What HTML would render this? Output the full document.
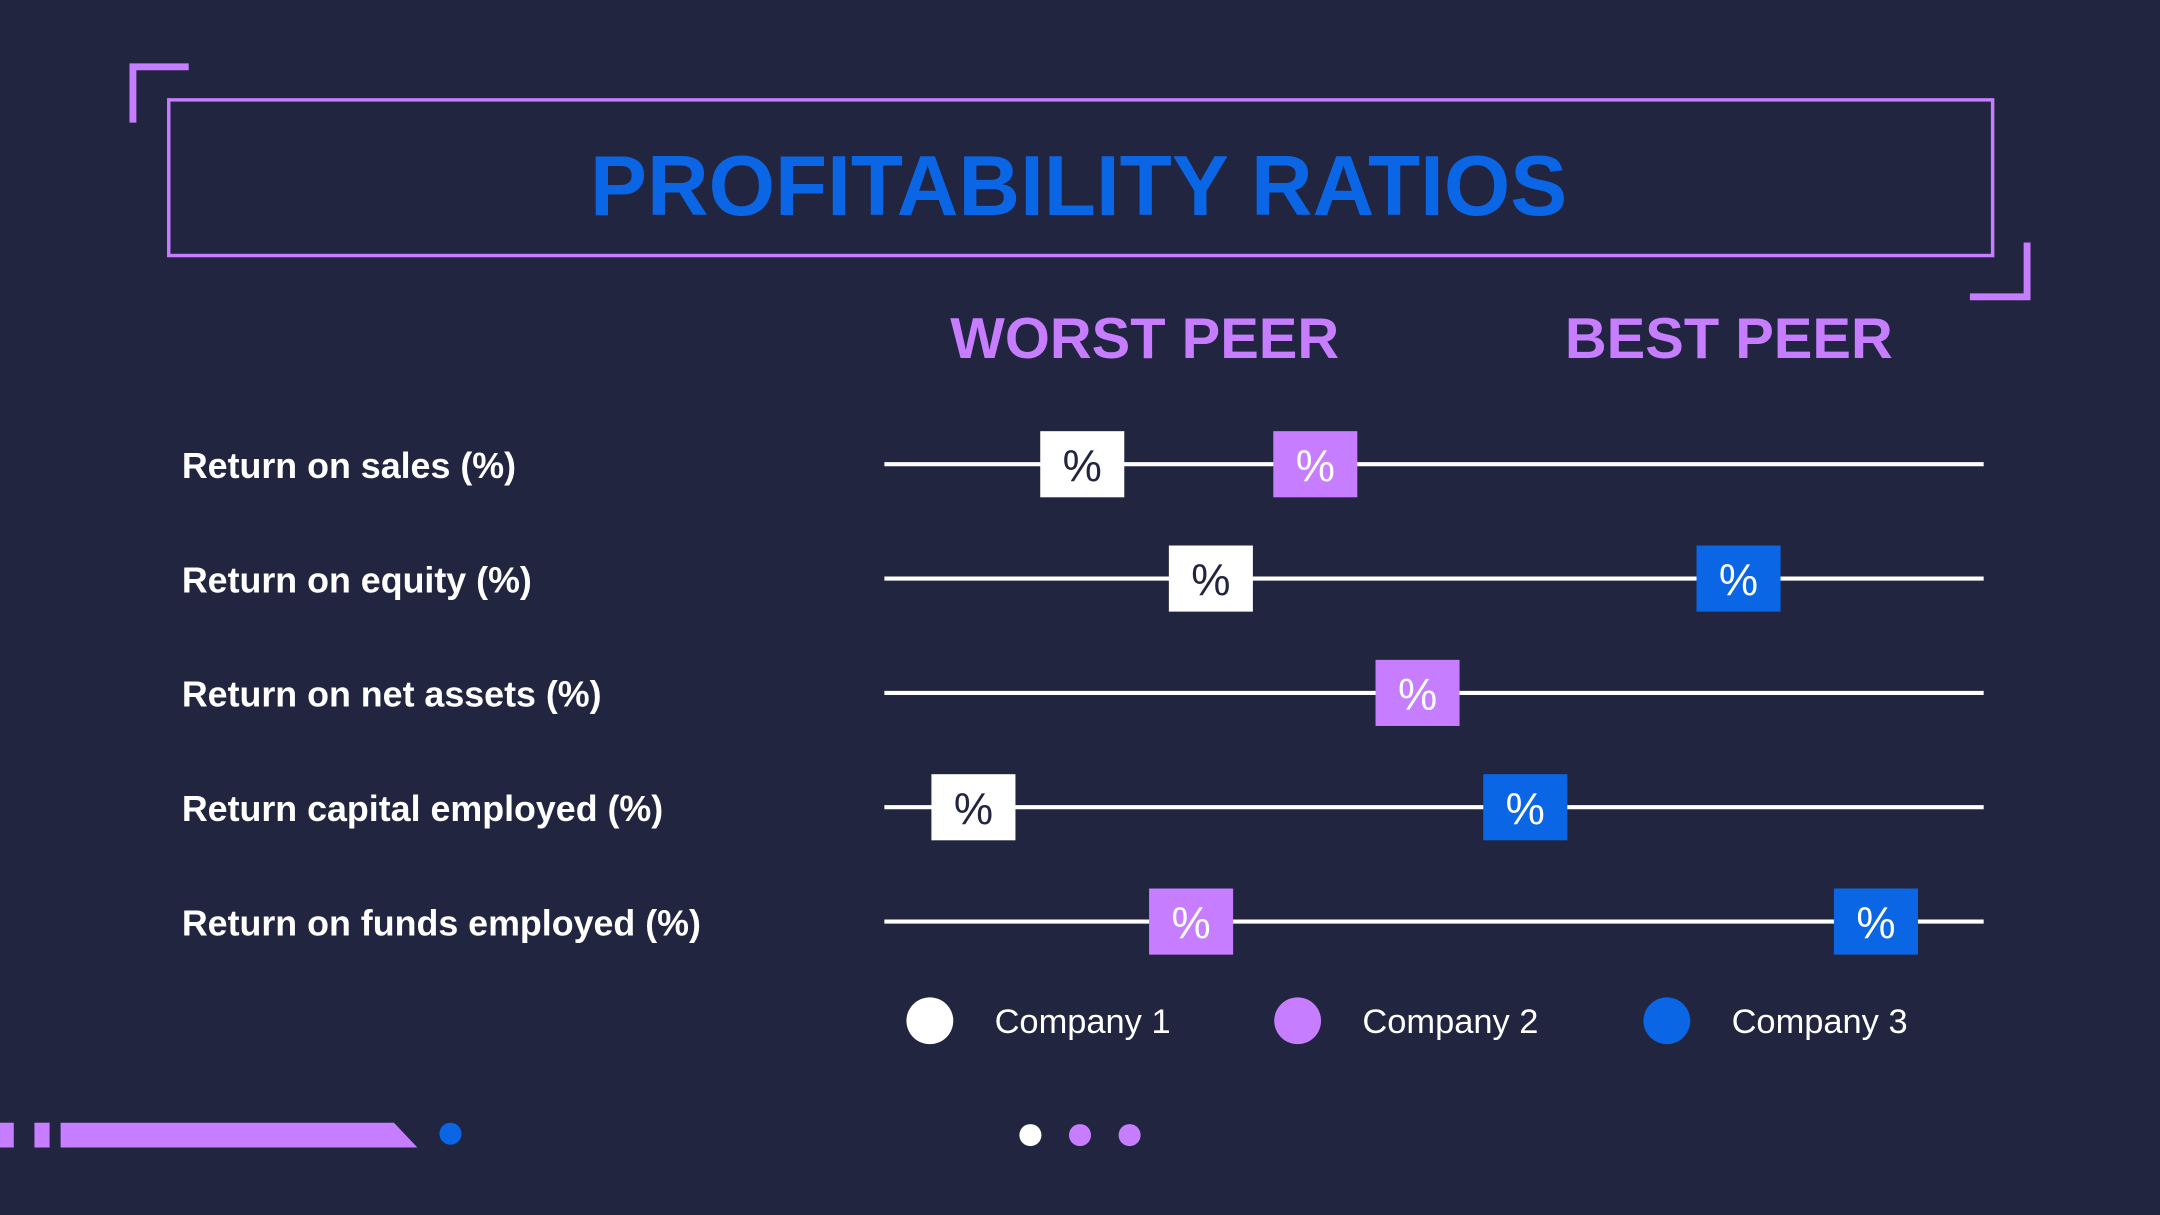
<!DOCTYPE html>
<html><head><meta charset="utf-8"><style>
html,body{margin:0;padding:0;background:#222540;}
svg{display:block;}
text{font-family:"Liberation Sans",Arial,sans-serif;}
</style></head><body>
<svg width="2160" height="1215" viewBox="0 0 1568 882">
<rect x="0" y="0" width="1568" height="882" fill="#222540"/>
<path d="M96.5 89 V48.5 H137" fill="none" stroke="#c77dff" stroke-width="5"/>
<path d="M1471.5 176 V215.5 H1430" fill="none" stroke="#c77dff" stroke-width="5"/>
<rect x="122.5" y="72.5" width="1324" height="113" fill="none" stroke="#c77dff" stroke-width="2.5"/>
<text x="783" y="156" text-anchor="middle" font-size="62" font-weight="bold" fill="#0a66e4">PROFITABILITY RATIOS</text>
<text x="831" y="260" text-anchor="middle" font-size="42" font-weight="bold" fill="#c77dff">WORST PEER</text>
<text x="1255" y="260" text-anchor="middle" font-size="42" font-weight="bold" fill="#c77dff">BEST PEER</text>
<g id="rows"></g>
<g>
<circle cx="675" cy="741" r="17" fill="#ffffff"/>
<text x="722" y="750" font-size="25" fill="#ffffff">Company 1</text>
<circle cx="942" cy="741" r="17" fill="#c77dff"/>
<text x="989" y="750" font-size="25" fill="#ffffff">Company 2</text>
<circle cx="1210" cy="741" r="17" fill="#0a66e4"/>
<text x="1257" y="750" font-size="25" fill="#ffffff">Company 3</text>
</g>
<g>
<rect x="0" y="815" width="10" height="18" fill="#c77dff"/>
<rect x="25" y="815" width="11" height="18" fill="#c77dff"/>
<polygon points="44,815 286,815 303,833 44,833" fill="#c77dff"/>
<circle cx="327" cy="823" r="8" fill="#0a66e4"/>
<circle cx="748" cy="824" r="8" fill="#ffffff"/>
<circle cx="784" cy="824" r="8" fill="#c77dff"/>
<circle cx="820" cy="824" r="8" fill="#c77dff"/>
</g>
</svg>
<script>
const categories = ["Return on sales (%)","Return on equity (%)","Return on net assets (%)","Return capital employed (%)","Return on funds employed (%)"];
const company1 = [18.0, 29.7, null, 8.1, null];
const company2 = [39.2, null, 48.5, null, 27.9];
const company3 = [null, 77.7, null, 58.3, 90.2];
const seriesNames = ["Company 1","Company 2","Company 3"];
const NS="http://www.w3.org/2000/svg";
const x0=642, x1=1440, rowY0=337, rowStep=83;
function xScale(v){return x0+(v/100)*(x1-x0);}
function yScale(i){return rowY0+i*rowStep;}
const g=document.getElementById('rows');
const series=[[company1,'#ffffff','#222540'],[company2,'#c77dff','#ffffff'],[company3,'#0a66e4','#ffffff']];
categories.forEach((c,i)=>{
  const y=yScale(i);
  const t=document.createElementNS(NS,'text');
  
  
  t.setAttribute('x',132);t.setAttribute('y',y+10);
  t.setAttribute('font-size','26');t.setAttribute('font-weight','bold');t.setAttribute('fill','#ffffff');
  t.textContent=c;g.appendChild(t);
  const l=document.createElementNS(NS,'line');
  
  
  l.setAttribute('x1',x0);l.setAttribute('x2',x1);l.setAttribute('y1',y);l.setAttribute('y2',y);
  l.setAttribute('stroke','#ffffff');l.setAttribute('stroke-width','3');g.appendChild(l);
  series.forEach((s,k)=>{
    const v=s[0][i]; if(v==null) return;
    const cx=xScale(v);
    const r=document.createElementNS(NS,'rect');
    
    
    r.setAttribute('x',cx-30.5);r.setAttribute('y',y-24);r.setAttribute('width',61);r.setAttribute('height',48);
    r.setAttribute('fill',s[1]);g.appendChild(r);
    const tt=document.createElementNS(NS,'text');
    
    
    tt.setAttribute('x',cx);tt.setAttribute('y',y+12);tt.setAttribute('text-anchor','middle');
    tt.setAttribute('font-size','32');tt.setAttribute('fill',s[2]);
    tt.textContent='%';g.appendChild(tt);
  });
});
</script>
</body></html>
